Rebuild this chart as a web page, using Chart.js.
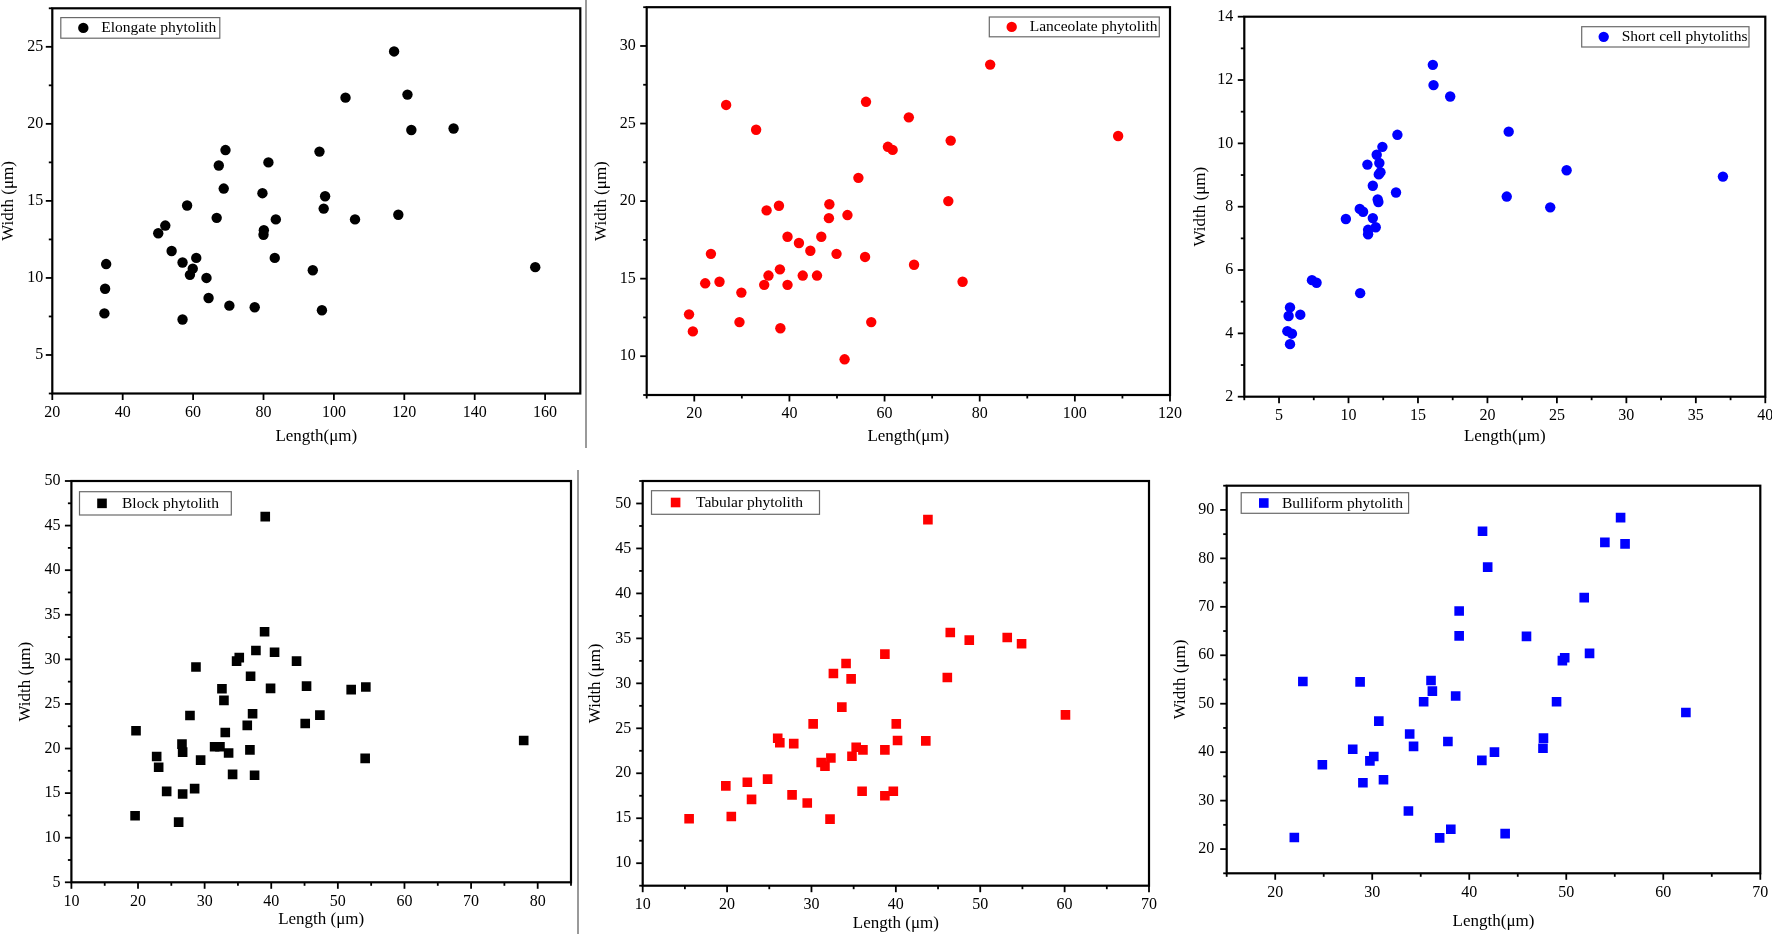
<!DOCTYPE html>
<html>
<head>
<meta charset="utf-8">
<script src="https://cdn.jsdelivr.net/npm/chart.js@4.4.1/dist/chart.umd.min.js"></script>
<style>
  html, body { margin: 0; padding: 0; background: #fff; }
  #page { position: relative; width: 1772px; height: 934px; overflow: hidden; background: #fff; }
  #page canvas { position: absolute; }
  .sep { position: absolute; background: #9a9a9a; width: 1.5px; }
</style>
</head>
<body>
<div id="page">
  <div class="sep" style="left:585px; top:0; height:448px;"></div>
  <div class="sep" style="left:577px; top:470px; height:464px;"></div>
</div>
<script>
// values, length / width in um
const elongateLength = [34.8, 35.0, 35.3, 50.1, 52.1, 53.9, 57.0, 57.0, 58.3, 59.1, 59.9, 60.9, 63.8, 64.4, 66.7, 67.3, 68.7, 69.2, 70.3, 77.5, 79.7, 80.1, 80.0, 81.4, 83.5, 83.2, 94.0, 95.9, 96.6, 97.1, 97.5, 103.3, 106.0, 117.1, 118.3, 120.9, 122.0, 134.0, 157.2];
const elongateWidth = [7.7, 9.3, 10.9, 12.9, 13.4, 11.75, 11.0, 7.3, 14.7, 10.2, 10.6, 11.3, 10.0, 8.7, 13.9, 17.3, 15.8, 18.3, 8.2, 8.1, 15.5, 13.1, 12.8, 17.5, 13.8, 11.3, 10.5, 18.2, 7.9, 14.5, 15.3, 21.7, 13.8, 24.7, 14.1, 21.9, 19.6, 19.7, 10.7];

const lanceolateLength = [26.7, 33.0, 18.9, 19.7, 22.3, 23.5, 25.3, 29.5, 29.9, 34.7, 35.2, 35.6, 37.8, 38.0, 38.1, 39.6, 39.6, 42.0, 42.8, 44.4, 45.8, 46.7, 48.4, 48.3, 49.9, 51.6, 52.2, 54.5, 55.9, 56.1, 57.2, 60.7, 61.7, 65.1, 66.2, 73.4, 73.9, 76.4, 82.2, 109.1];
const lanceolateWidth = [26.2, 24.6, 12.7, 11.6, 14.7, 16.6, 14.8, 12.2, 14.1, 14.6, 19.4, 15.2, 19.7, 15.6, 11.8, 17.7, 14.6, 17.3, 15.2, 16.8, 15.2, 17.7, 19.8, 18.9, 16.6, 9.8, 19.1, 21.5, 16.4, 26.4, 12.2, 23.5, 23.3, 25.4, 15.9, 20.0, 23.9, 14.8, 28.8, 24.2];

const shortCellLength = [5.79, 5.69, 5.6, 5.93, 5.79, 6.53, 7.37, 7.70, 9.81, 10.84, 10.81, 11.05, 11.36, 11.41, 11.41, 11.75, 11.75, 11.96, 12.03, 12.22, 12.1, 12.15, 12.18, 12.3, 12.44, 13.42, 13.52, 16.07, 16.12, 17.32, 21.39, 21.53, 24.52, 25.7, 36.95];
const shortCellWidth = [4.82, 4.55, 4.07, 3.99, 3.66, 4.59, 5.68, 5.6, 7.61, 5.27, 7.93, 7.84, 9.33, 7.27, 7.13, 8.66, 7.64, 7.35, 9.64, 9.38, 8.23, 8.15, 9.02, 9.09, 9.89, 8.45, 10.27, 12.48, 11.84, 11.48, 8.32, 10.37, 7.98, 9.15, 8.95];

const blockLength = [19.56, 19.7, 22.8, 23.1, 24.3, 26.1, 26.6, 26.7, 26.7, 27.8, 28.5, 28.7, 29.4, 31.5, 32.3, 32.6, 32.9, 33.1, 33.6, 34.2, 34.8, 35.2, 36.4, 36.8, 36.9, 37.2, 37.5, 37.7, 39.0, 39.1, 39.9, 40.5, 43.8, 45.1, 45.3, 47.3, 52.0, 54.2, 54.1, 77.9];
const blockWidth = [12.47, 22.0, 19.1, 17.9, 15.2, 11.75, 20.5, 19.6, 14.9, 23.7, 15.5, 29.15, 18.7, 20.2, 20.2, 26.7, 25.4, 21.8, 19.5, 17.1, 29.8, 30.2, 22.6, 19.85, 28.1, 23.9, 17.0, 31.0, 33.1, 46.0, 26.75, 30.8, 29.8, 22.8, 27.0, 23.75, 26.6, 26.9, 18.9, 20.9];

const tabularLength = [15.5, 19.85, 20.5, 22.4, 22.9, 24.8, 26.0, 26.25, 27.7, 27.9, 29.5, 30.2, 31.15, 31.6, 32.2, 32.3, 32.6, 33.6, 34.1, 34.7, 34.8, 35.3, 36.0, 36.1, 38.7, 38.7, 38.7, 39.7, 40.05, 40.2, 43.55, 43.8, 46.1, 46.45, 48.7, 53.2, 54.9, 60.1];
const tabularWidth = [14.94, 18.6, 15.2, 19.0, 17.1, 19.35, 23.9, 23.4, 17.6, 23.3, 16.7, 25.5, 21.2, 20.8, 14.9, 21.7, 31.1, 27.35, 32.2, 30.5, 21.9, 22.9, 18.0, 22.6, 33.25, 22.6, 17.5, 18.0, 25.5, 23.65, 23.6, 48.2, 30.65, 35.65, 34.8, 35.1, 34.4, 26.5];

const bulliformLength = [21.97, 22.85, 24.86, 27.99, 28.75, 29.04, 29.76, 30.16, 30.68, 31.16, 33.73, 33.86, 34.26, 35.3, 36.06, 36.2, 36.95, 37.8, 38.1, 38.6, 38.96, 38.96, 41.3, 41.37, 41.9, 42.6, 43.7, 45.9, 47.6, 47.65, 49.0, 49.6, 49.84, 51.85, 52.4, 53.98, 55.6, 56.06, 62.33];
const bulliformWidth = [22.4, 54.6, 37.4, 40.6, 54.5, 33.7, 38.2, 39.1, 46.4, 34.3, 27.85, 43.75, 41.2, 50.4, 54.8, 52.6, 22.3, 42.2, 24.1, 51.6, 69.15, 64.0, 38.3, 85.6, 78.2, 40.0, 23.2, 63.9, 40.8, 42.9, 50.4, 58.9, 59.5, 71.9, 60.4, 83.3, 88.4, 83.0, 48.2];

// axis ranges: [min, max, tick step, label every]
const elongateX = [20, 170, 20, 20], elongateY = [2.5, 27.5, 2.5, 5];
const lanceolateX = [10, 120, 10, 20], lanceolateY = [7.5, 32.5, 2.5, 5];
const shortCellX = [2.5, 40, 2.5, 5], shortCellY = [2, 14, 1, 2];
const blockX = [10, 85, 5, 10], blockY = [5, 50, 2.5, 5];
const tabularX = [10, 70, 5, 10], tabularY = [7.5, 52.5, 2.5, 5];
const bulliformX = [15, 70, 5, 10], bulliformY = [15, 95, 5, 10];

const FONT = "'Liberation Serif', 'Times New Roman', serif";

// page layout of each panel: plot box [l, t, r, b], title centres, legend box relative to plot
const panels = [
    { label: 'Elongate phytolith', xs: elongateLength, ys: elongateWidth, xr: elongateX, yr: elongateY,
      color: '#000000', shape: 'circle', area: [52.3, 8.3, 580.3, 393.5], yTitleX: 8, xTitleY: 436.7,
      xTitle: 'Length(μm)', yPad: 9, legend: [8.5, 9.3, 159, 20.6, 31, 49] },
    { label: 'Lanceolate phytolith', xs: lanceolateLength, ys: lanceolateWidth, xr: lanceolateX, yr: lanceolateY,
      color: '#ff0000', shape: 'circle', area: [646.7, 7.2, 1170, 395], yTitleX: 601, xTitleY: 436.5,
      xTitle: 'Length(μm)', yPad: 11, legend: [342.6, 9.8, 170, 19.8, 365, 383] },
    { label: 'Short cell phytoliths', xs: shortCellLength, ys: shortCellWidth, xr: shortCellX, yr: shortCellY,
      color: '#0000ff', shape: 'circle', area: [1244.3, 16.7, 1765.3, 396.7], yTitleX: 1200, xTitleY: 436.7,
      xTitle: 'Length(μm)', yPad: 11, legend: [337.4, 10, 167.3, 20.3, 359.4, 377.4] },
    { label: 'Block phytolith', xs: blockLength, ys: blockWidth, xr: blockX, yr: blockY,
      color: '#000000', shape: 'rect', area: [71.4, 481, 571, 882.3], yTitleX: 25, xTitleY: 920,
      xTitle: 'Length (μm)', yPad: 11, legend: [8.1, 10.7, 151.8, 23.3, 30.6, 50.6] },
    { label: 'Tabular phytolith', xs: tabularLength, ys: tabularWidth, xr: tabularX, yr: tabularY,
      color: '#ff0000', shape: 'rect', area: [642.7, 481, 1149, 885.7], yTitleX: 595.5, xTitleY: 924,
      xTitle: 'Length (μm)', yPad: 11.5, legend: [8.8, 9.7, 168, 23.6, 32.9, 53.3] },
    { label: 'Bulliform phytolith', xs: bulliformLength, ys: bulliformWidth, xr: bulliformX, yr: bulliformY,
      color: '#0000ff', shape: 'rect', area: [1226.7, 485.7, 1760.3, 873.3], yTitleX: 1180.5, xTitleY: 921.5,
      xTitle: 'Length(μm)', yPad: 12.5, legend: [14.5, 7, 167.4, 20.6, 37.1, 55.3] }
];

function toPoints(xs, ys) {
    return xs.map(function (x, i) { return { x: x, y: ys[i] }; });
}

function isMajor(v, every) {
    const q = v / every;
    return Math.abs(q - Math.round(q)) < 1e-6;
}

function marker(ctx, shape, x, y, color) {
    ctx.fillStyle = color;
    if (shape === 'circle') {
        ctx.beginPath();
        ctx.arc(x, y, 5.2, 0, Math.PI * 2);
        ctx.fill();
    } else {
        ctx.fillRect(x - 4.8, y - 4.8, 9.6, 9.6);
    }
}

// Origin-style frame, outward ticks and boxed legend
const originFrame = {
    id: 'originFrame',
    afterDraw(chart, args, opts) {
        const ctx = chart.ctx;
        const a = chart.chartArea;
        const sx = chart.scales.x, sy = chart.scales.y;
        ctx.save();
        ctx.strokeStyle = '#000';
        ctx.lineWidth = 1.8;
        sx.ticks.forEach(function (t) {
            const px = sx.getPixelForValue(t.value);
            const len = t.label !== '' ? 6.5 : 3.5;
            ctx.beginPath();
            ctx.moveTo(px, a.bottom);
            ctx.lineTo(px, a.bottom + len);
            ctx.stroke();
        });
        sy.ticks.forEach(function (t) {
            const py = sy.getPixelForValue(t.value);
            const len = t.label !== '' ? 6.5 : 3.5;
            ctx.beginPath();
            ctx.moveTo(a.left, py);
            ctx.lineTo(a.left - len, py);
            ctx.stroke();
        });
        ctx.lineWidth = 2.2;
        ctx.strokeRect(a.left, a.top, a.right - a.left, a.bottom - a.top);

        const lg = opts.box;
        const bx = a.left + lg[0], by = a.top + lg[1];
        ctx.strokeStyle = '#6a6a6a';
        ctx.lineWidth = 1.2;
        ctx.strokeRect(bx, by, lg[2], lg[3]);
        marker(ctx, opts.shape, a.left + lg[4], by + lg[3] / 2, opts.color);
        ctx.fillStyle = '#000';
        ctx.font = '15.5px ' + FONT;
        ctx.textAlign = 'left';
        ctx.textBaseline = 'middle';
        ctx.fillText(opts.text, a.left + lg[5], by + lg[3] / 2 + 0.5);
        ctx.restore();
    }
};

function axis(range, title, pad, fit) {
    return {
        type: 'linear',
        min: range[0],
        max: range[1],
        grid: { display: false, drawTicks: false },
        border: { display: false },
        ticks: {
            stepSize: range[2],
            includeBounds: false,
            autoSkip: false,
            maxRotation: 0,
            minRotation: 0,
            padding: pad,
            color: '#000',
            font: { family: FONT, size: 16 },
            callback: function (v) { return isMajor(v, range[3]) ? String(v) : ''; }
        },
        title: {
            display: true,
            text: title,
            color: '#000',
            padding: 0,
            font: { family: FONT, size: 17, lineHeight: 1.2 }
        },
        afterFit: fit
    };
}

const page = document.getElementById('page');
const PAD_TOP = 24, PAD_RIGHT = 26, HALF_LINE = 10.2;

panels.forEach(function (p) {
    const left = Math.round(p.yTitleX - HALF_LINE);
    const top = Math.round(p.area[1] - PAD_TOP);
    const right = Math.round(p.area[2] + PAD_RIGHT);
    const bottom = Math.round(p.xTitleY + HALF_LINE);
    const yWidth = p.area[0] - left;
    const xHeight = bottom - p.area[3];

    const canvas = document.createElement('canvas');
    canvas.width = right - left;
    canvas.height = bottom - top;
    canvas.style.left = left + 'px';
    canvas.style.top = top + 'px';
    page.appendChild(canvas);

    new Chart(canvas, {
        type: 'scatter',
        data: {
            datasets: [{
                label: p.label,
                data: toPoints(p.xs, p.ys),
                pointStyle: p.shape,
                pointRadius: p.shape === 'rect' ? 6.8 : 5.2,
                pointBorderWidth: 0,
                backgroundColor: p.color,
                borderColor: p.color
            }]
        },
        options: {
            responsive: false,
            animation: false,
            devicePixelRatio: 1,
            layout: { padding: { top: p.area[1] - top, right: right - p.area[2], left: 0, bottom: 0 } },
            plugins: {
                legend: { display: false },
                tooltip: { enabled: false },
                originFrame: { box: p.legend, shape: p.shape, color: p.color, text: p.label }
            },
            scales: {
                x: axis(p.xr, p.xTitle, 9.5, function (s) { s.height = xHeight; }),
                y: axis(p.yr, 'Width (μm)', p.yPad, function (s) { s.width = yWidth; })
            }
        },
        plugins: [originFrame]
    });
});
</script>
</body>
</html>
